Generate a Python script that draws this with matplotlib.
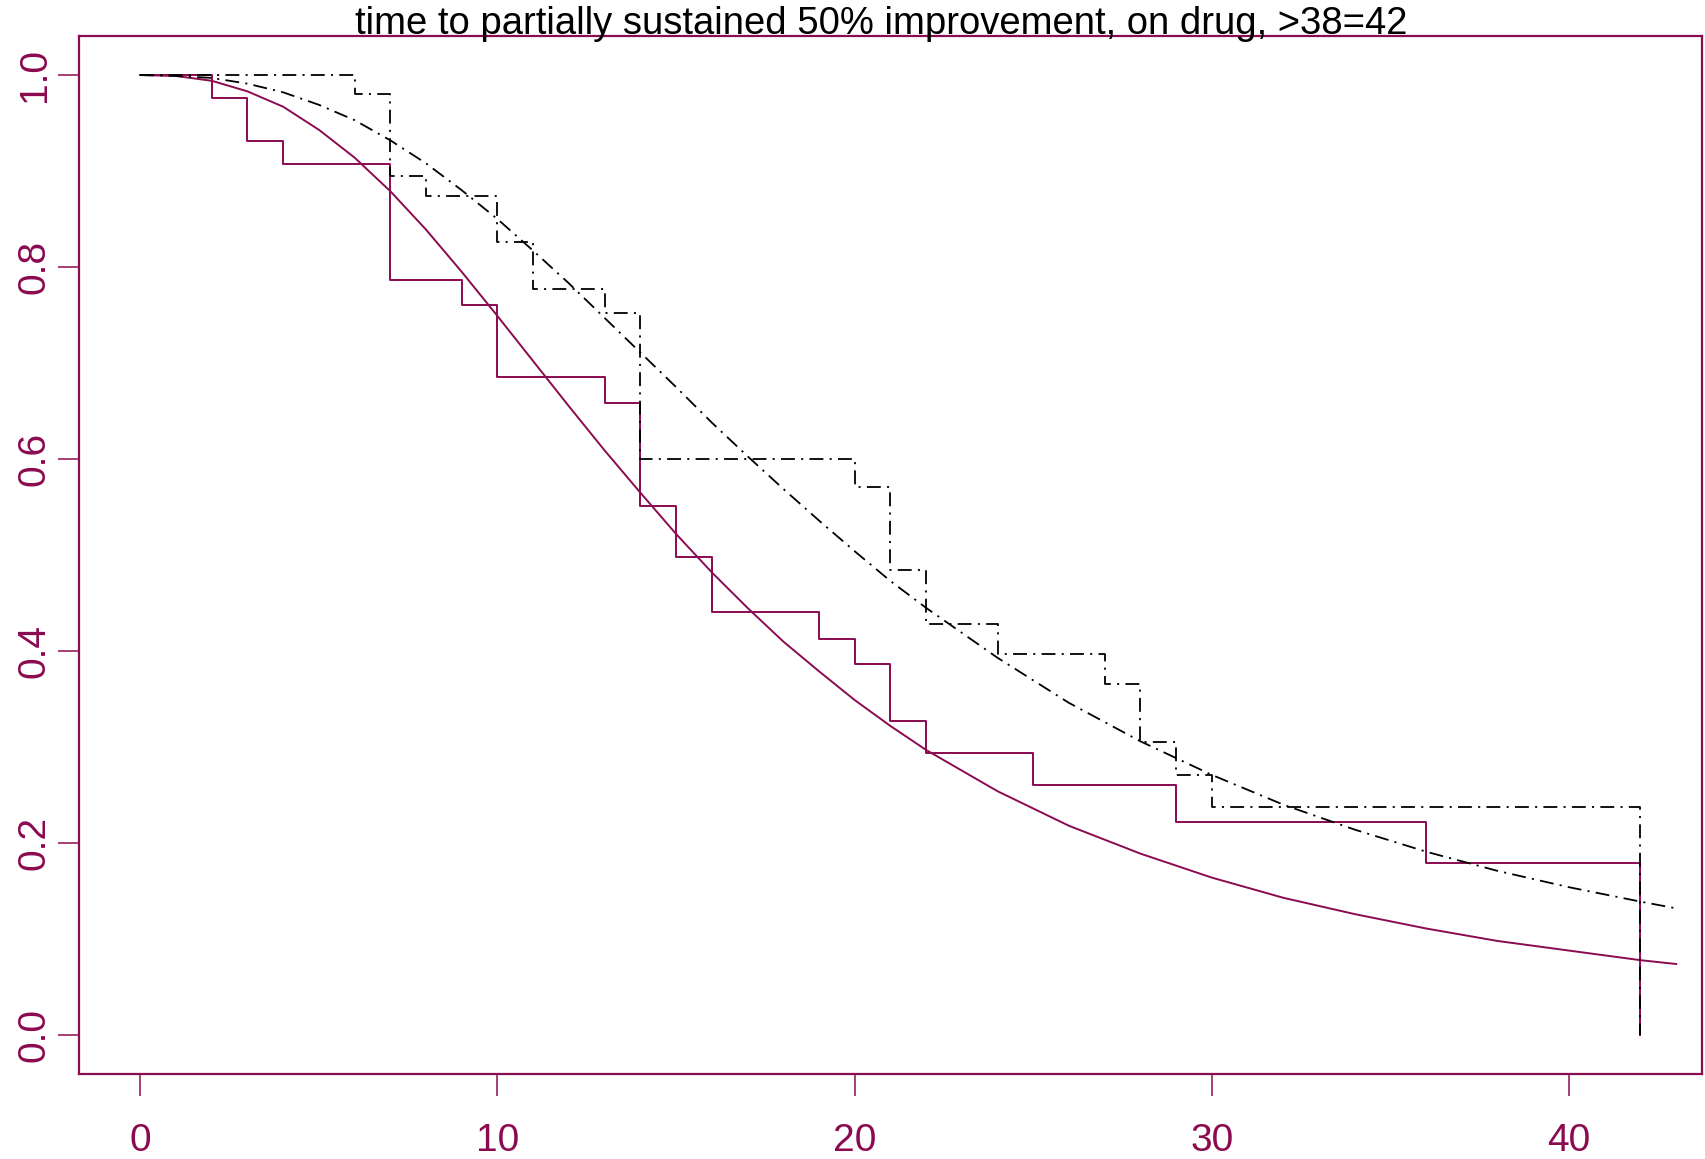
import matplotlib.pyplot as plt

plt.rcParams["font.family"] = ["Liberation Sans", "DejaVu Sans"]
plt.rcParams["lines.scale_dashes"] = False

AXIS_COLOR = "#8B0A50"

# Kaplan-Meier steps, group 1 (solid)
km1_time = [0, 2, 3, 4, 7, 9, 10, 13, 14, 15, 16, 19, 20, 21, 22, 25, 29, 36, 42]
km1_surv = [1.0, 0.976, 0.931, 0.907, 0.786, 0.760, 0.685, 0.658, 0.551, 0.498,
            0.441, 0.413, 0.386, 0.327, 0.294, 0.260, 0.222, 0.179, 0.0]

# Kaplan-Meier steps, group 2 (dash-dot)
km2_time = [0, 6, 7, 8, 10, 11, 13, 14, 20, 21, 22, 24, 27, 28, 29, 30, 42]
km2_surv = [1.0, 0.980, 0.895, 0.874, 0.826, 0.777, 0.752, 0.600, 0.571, 0.484,
            0.428, 0.397, 0.366, 0.305, 0.271, 0.238, 0.0]

# fitted survival curves
fit_time = [0, 1, 2, 3, 4, 5, 6, 7, 8, 9, 10, 11, 12, 13, 14, 15, 16, 17, 18,
            19, 20, 21, 22, 24, 26, 28, 30, 32, 34, 36, 38, 40, 42, 43]
fit1_surv = [1.0, 0.999, 0.994, 0.983, 0.967, 0.943, 0.914, 0.879, 0.839, 0.795,
             0.749, 0.702, 0.655, 0.609, 0.565, 0.522, 0.482, 0.445, 0.410,
             0.379, 0.349, 0.322, 0.297, 0.254, 0.218, 0.189, 0.164, 0.143,
             0.126, 0.111, 0.098, 0.088, 0.078, 0.074]
fit2_surv = [1.0, 0.999, 0.997, 0.991, 0.982, 0.969, 0.953, 0.932, 0.908, 0.880,
             0.850, 0.817, 0.783, 0.747, 0.711, 0.675, 0.638, 0.603, 0.569,
             0.536, 0.504, 0.473, 0.445, 0.393, 0.346, 0.306, 0.271, 0.240,
             0.214, 0.191, 0.171, 0.154, 0.139, 0.132]

title = "time to partially sustained 50% improvement, on drug, >38=42"

dashdot = (0, (10, 4.5, 1.5, 4.5))

fig = plt.figure(figsize=(17.05, 11.59), dpi=100)
ax = fig.add_axes([0.0463, 0.0733, 0.9519, 0.8956])

ax.step(km1_time, km1_surv, where="post", color=AXIS_COLOR, lw=1.4)
ax.plot(fit_time, fit1_surv, color=AXIS_COLOR, lw=1.4)
ax.step(km2_time, km2_surv, where="post", color="black", lw=1.3, linestyle=dashdot)
ax.plot(fit_time, fit2_surv, color="black", lw=1.3, linestyle=dashdot)

ax.set_xlim(-1.716, 43.72)
ax.set_ylim(-0.0406, 1.0406)
ax.set_xticks([0, 10, 20, 30, 40])
ax.set_yticks([0.0, 0.2, 0.4, 0.6, 0.8, 1.0])
ax.set_yticklabels(["0.0", "0.2", "0.4", "0.6", "0.8", "1.0"],
                   rotation=90, va="center")

for side in ax.spines.values():
    side.set_color(AXIS_COLOR)
    side.set_linewidth(1.6)

ax.tick_params(axis="x", colors=AXIS_COLOR, labelsize=28, length=16,
               width=1.1, pad=19)
ax.tick_params(axis="y", colors=AXIS_COLOR, labelsize=28, length=15,
               width=1.1, pad=4)

# title sits right on the top edge of the frame
ax.text(0.494, 1.0015, title, transform=ax.transAxes, fontsize=27.5,
        color="black", ha="center", va="baseline")

fig.savefig("out.png", dpi=100)
